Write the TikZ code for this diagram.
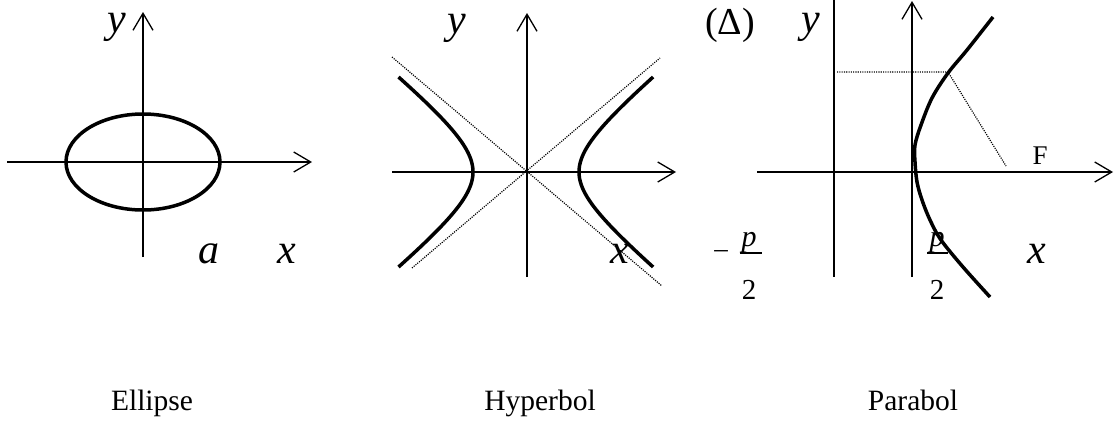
\documentclass[tikz,border=0pt]{standalone}
\usepackage{fontspec}
\setmainfont{Liberation Serif}
\usetikzlibrary{arrows.meta}
\begin{document}
\begin{tikzpicture}[x=1pt,y=-1pt,
 axis/.style={line width=1.3pt,-{Straight Barb[length=17pt,width=20pt,line width=1.3pt]}},
 plainline/.style={line width=1.3pt},
 curve/.style={line width=3.5pt,line join=round},
 asym/.style={line width=1.2pt,dash pattern=on 1.1pt off 1.2pt},
 lbl/.style={inner sep=0pt,font=\fontsize{42}{42}\selectfont\itshape},
 uplbl/.style={inner sep=0pt,font=\fontsize{38}{38}\selectfont},
 small/.style={inner sep=0pt,font=\fontsize{27}{27}\selectfont},
 digit/.style={inner sep=0pt,font=\fontsize{29}{29}\selectfont},
 smallit/.style={inner sep=0pt,font=\fontsize{30}{30}\selectfont\itshape},
 caption/.style={inner sep=0pt,anchor=base,font=\fontsize{29.5}{29.5}\selectfont}]
\useasboundingbox (0,0) rectangle (1115,421);

% ---------- Ellipse ----------
\coordinate (exl) at (7,162);
\coordinate (exr) at (312,162);
\coordinate (eyb) at (143,257);
\coordinate (eyt) at (143,12);
\draw[axis] (exl) -- (exr);
\draw[axis] (eyb) -- (eyt);
\draw[curve] (143,162) ellipse [x radius=77, y radius=48];
\node[lbl] (ey) at (117,27) {y};
\node[lbl] (ea) at (209,254) {a};
\node[lbl] (ex) at (287,254) {x};
\node[caption] (ecap) at (152,410) {Ellipse};

% ---------- Hyperbol ----------
\coordinate (hxl) at (392,172);
\coordinate (hxr) at (676,172);
\coordinate (hyb) at (527,277);
\coordinate (hyt) at (527,13);
\coordinate (ha1) at (392,57);
\coordinate (ha2) at (662,286);
\coordinate (hb1) at (412,268);
\coordinate (hb2) at (660,58);
\draw[asym] (ha1) -- (ha2);
\draw[asym] (hb1) -- (hb2);
\draw[axis] (hxl) -- (hxr);
\draw[axis] (hyb) -- (hyt);
\draw[curve] plot[domain=-95:95, samples=80, variable=\t, smooth] ({527+52*sqrt(1+(\t/43)^2)}, {172+\t});
\draw[curve] plot[domain=-95:95, samples=80, variable=\t, smooth] ({527-54*sqrt(1+(\t/44)^2)}, {172+\t});
\node[lbl] (hy) at (457,28) {y};
\node[lbl] (hx) at (620,254) {x};
\node[caption] (hcap) at (540,410) {Hyperbol};

% ---------- Parabol ----------
\coordinate (pxl) at (757,172);
\coordinate (pxr) at (1113,172);
\coordinate (pyb) at (912,277);
\coordinate (pyt) at (912,1);
\coordinate (dt) at (834,0);
\coordinate (db) at (834,277);
\coordinate (pd) at (837,72);
\coordinate (pm) at (948,72);
\coordinate (pf) at (1006,166);
\draw[plainline] (dt) -- (db);
\draw[axis] (pxl) -- (pxr);
\draw[axis] (pyb) -- (pyt);
\draw[asym] (pd) -- (pm) -- (pf);
\draw[curve] plot[smooth, tension=0.55] coordinates {
 (993,17) (967,50) (948,73) (932,98) (921,125) (915,145) (915,162)
 (917,182) (922,200) (930,220) (941,240) (963,267) (990,297)};
\node[uplbl] (pdelta) at (730,25) {(Δ)};
\node[lbl] (py) at (811,27) {y};
\node[small] (pF) at (1040,156) {F};
\node[lbl] (px) at (1037,254) {x};
% -p/2
\node[small] (pmin) at (721,254) {–};
\node[smallit] (pp1) at (749,243) {p};
\coordinate (b1l) at (740,253);
\coordinate (b1r) at (762,253);
\draw[line width=1.1pt] (b1l) -- (b1r);
\node[digit] (p21) at (749,290) {2};
% p/2
\node[smallit] (pp2) at (937,243) {p};
\coordinate (b2l) at (927,253);
\coordinate (b2r) at (948,253);
\draw[line width=1.1pt] (b2l) -- (b2r);
\node[digit] (p22) at (937,290) {2};
\node[caption] (pcap) at (913,410) {Parabol};
\end{tikzpicture}
\end{document}
